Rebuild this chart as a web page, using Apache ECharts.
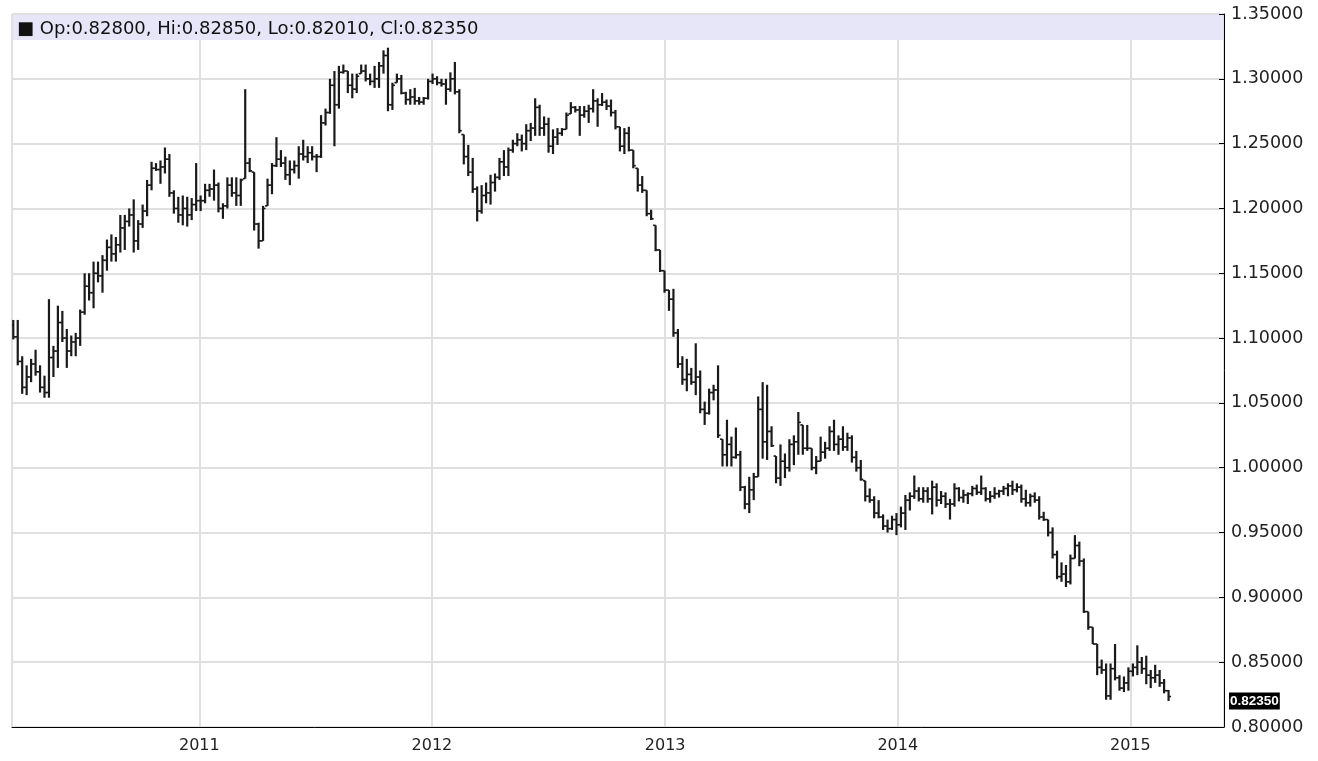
<!DOCTYPE html>
<html><head><meta charset="utf-8">
<script src="https://cdn.jsdelivr.net/npm/echarts@6/dist/echarts.min.js"></script>
<style>html,body{margin:0;padding:0;background:#fff}#c{width:1318px;height:761px}</style>
</head><body><div id="c"></div>
<script>
// Weekly bars starting Monday 2010-03-15
const startDate = [2010, 2, 15];
const yearTicks = [2011, 2012, 2013, 2014, 2015];

const open = [
1.110,1.101,1.082,1.062,1.070,1.080,1.074,1.062,1.058,1.085,
1.090,1.112,1.100,1.090,1.097,1.100,1.120,1.140,1.135,1.150,
1.148,1.160,1.170,1.165,1.172,1.185,1.190,1.195,1.175,1.188,
1.198,1.218,1.231,1.230,1.232,1.238,1.212,1.200,1.195,1.200,
1.195,1.203,1.206,1.206,1.214,1.215,1.218,1.200,1.202,1.218,
1.212,1.210,1.223,1.235,1.228,1.188,1.175,1.202,1.218,1.233,
1.238,1.235,1.226,1.230,1.233,1.242,1.240,1.243,1.240,1.240,
1.266,1.274,1.295,1.280,1.305,1.306,1.295,1.292,1.304,1.306,
1.300,1.298,1.300,1.310,1.318,1.280,1.297,1.300,1.289,1.284,
1.286,1.283,1.282,1.285,1.298,1.300,1.297,1.296,1.292,1.300,
1.290,1.257,1.240,1.228,1.215,1.198,1.210,1.212,1.220,1.224,
1.236,1.232,1.245,1.250,1.253,1.250,1.260,1.262,1.278,1.262,
1.265,1.248,1.255,1.258,1.261,1.273,1.278,1.276,1.272,1.275,
1.277,1.283,1.280,1.282,1.279,1.274,1.263,1.248,1.258,1.245,
1.231,1.218,1.214,1.196,1.187,1.168,1.152,1.137,1.130,1.104,
1.080,1.068,1.072,1.066,1.070,1.045,1.042,1.058,1.060,1.022,
1.010,1.018,1.008,1.010,0.985,0.972,0.983,0.993,1.045,1.020,
1.028,1.009,0.992,1.005,1.000,1.018,1.020,1.033,1.015,1.015,
1.000,1.005,1.012,1.015,1.028,1.018,1.022,1.016,1.023,1.008,
1.000,0.990,0.978,0.975,0.965,0.962,0.955,0.953,0.960,0.956,
0.965,0.975,0.978,0.982,0.976,0.982,0.976,0.985,0.975,0.978,
0.972,0.972,0.984,0.977,0.979,0.980,0.984,0.981,0.984,0.976,
0.978,0.980,0.982,0.984,0.986,0.983,0.985,0.976,0.973,0.978,
0.975,0.962,0.960,0.950,0.933,0.916,0.918,0.912,0.930,0.940,
0.928,0.889,0.877,0.864,0.846,0.844,0.824,0.845,0.838,0.830,
0.834,0.843,0.846,0.850,0.845,0.840,0.838,0.840,0.834,0.8280
];
const high = [
1.114,1.114,1.086,1.079,1.084,1.091,1.079,1.071,1.130,1.094,
1.125,1.121,1.107,1.102,1.104,1.122,1.150,1.150,1.159,1.159,
1.164,1.176,1.180,1.178,1.195,1.195,1.200,1.207,1.191,1.203,
1.222,1.236,1.235,1.237,1.247,1.242,1.214,1.209,1.210,1.209,
1.208,1.235,1.210,1.219,1.219,1.230,1.220,1.204,1.224,1.224,
1.224,1.223,1.292,1.239,1.228,1.189,1.202,1.223,1.235,1.255,
1.245,1.240,1.237,1.237,1.248,1.253,1.248,1.248,1.242,1.272,
1.277,1.300,1.306,1.310,1.311,1.306,1.304,1.304,1.311,1.311,
1.304,1.310,1.313,1.322,1.324,1.297,1.304,1.303,1.290,1.292,
1.293,1.286,1.286,1.300,1.304,1.302,1.300,1.300,1.305,1.313,
1.292,1.257,1.249,1.239,1.217,1.218,1.220,1.226,1.227,1.239,
1.245,1.247,1.253,1.258,1.257,1.265,1.266,1.285,1.280,1.271,
1.270,1.261,1.262,1.262,1.274,1.282,1.279,1.279,1.279,1.280,
1.292,1.285,1.289,1.284,1.284,1.276,1.263,1.262,1.263,1.245,
1.231,1.225,1.214,1.199,1.187,1.168,1.152,1.137,1.138,1.107,
1.086,1.084,1.077,1.096,1.075,1.051,1.061,1.064,1.079,1.022,
1.037,1.024,1.031,1.013,0.986,0.993,0.996,1.055,1.066,1.064,
1.032,1.009,1.018,1.011,1.022,1.025,1.043,1.033,1.033,1.015,
1.009,1.024,1.020,1.032,1.037,1.025,1.032,1.027,1.025,1.013,
1.006,0.990,0.984,0.978,0.975,0.964,0.960,0.963,0.965,0.970,
0.979,0.981,0.994,0.985,0.985,0.985,0.990,0.988,0.982,0.981,
0.976,0.988,0.985,0.983,0.981,0.986,0.987,0.994,0.985,0.982,
0.985,0.983,0.986,0.988,0.990,0.988,0.987,0.983,0.980,0.981,
0.978,0.966,0.960,0.954,0.936,0.927,0.925,0.933,0.948,0.943,
0.930,0.889,0.877,0.864,0.852,0.849,0.849,0.864,0.840,0.839,
0.846,0.849,0.863,0.854,0.855,0.844,0.848,0.844,0.837,0.8285
];
const low = [
1.099,1.079,1.057,1.056,1.066,1.071,1.058,1.054,1.054,1.070,
1.077,1.097,1.077,1.086,1.086,1.094,1.118,1.129,1.123,1.143,
1.135,1.152,1.159,1.159,1.166,1.168,1.186,1.166,1.168,1.185,
1.194,1.214,1.229,1.219,1.227,1.209,1.196,1.189,1.187,1.186,
1.191,1.198,1.198,1.204,1.209,1.206,1.197,1.192,1.200,1.209,
1.202,1.202,1.223,1.228,1.183,1.169,1.175,1.202,1.211,1.232,
1.232,1.222,1.218,1.227,1.223,1.237,1.235,1.237,1.228,1.239,
1.264,1.273,1.248,1.277,1.304,1.289,1.285,1.289,1.304,1.298,
1.295,1.293,1.293,1.304,1.275,1.276,1.297,1.288,1.280,1.280,
1.280,1.280,1.280,1.284,1.296,1.295,1.294,1.280,1.290,1.288,
1.258,1.234,1.225,1.212,1.190,1.196,1.204,1.203,1.213,1.222,
1.225,1.225,1.243,1.248,1.244,1.245,1.252,1.256,1.256,1.256,
1.243,1.242,1.249,1.256,1.261,1.273,1.274,1.256,1.270,1.266,
1.274,1.263,1.279,1.276,1.271,1.261,1.244,1.242,1.244,1.231,
1.213,1.212,1.194,1.191,1.167,1.151,1.135,1.121,1.101,1.077,
1.064,1.059,1.064,1.056,1.042,1.033,1.041,1.052,1.023,1.001,
1.001,1.001,1.007,0.982,0.968,0.965,0.975,0.993,1.007,1.006,
1.016,0.988,0.986,0.992,0.997,1.002,1.010,1.010,1.013,0.998,
0.995,1.005,1.007,1.013,1.013,1.010,1.013,1.013,1.004,0.997,
0.990,0.974,0.973,0.961,0.961,0.952,0.950,0.952,0.948,0.954,
0.952,0.967,0.976,0.974,0.973,0.973,0.964,0.970,0.972,0.969,
0.960,0.970,0.974,0.973,0.972,0.978,0.979,0.979,0.974,0.973,
0.976,0.977,0.979,0.978,0.979,0.981,0.973,0.970,0.970,0.973,
0.960,0.959,0.947,0.930,0.914,0.912,0.908,0.910,0.930,0.924,
0.888,0.875,0.864,0.840,0.841,0.821,0.821,0.836,0.828,0.827,
0.828,0.839,0.840,0.841,0.833,0.830,0.834,0.831,0.826,0.8201
];
const close = [
1.101,1.082,1.062,1.070,1.080,1.074,1.062,1.058,1.085,1.090,
1.112,1.100,1.090,1.097,1.100,1.120,1.140,1.135,1.150,1.148,
1.160,1.170,1.165,1.172,1.185,1.190,1.195,1.175,1.188,1.198,
1.218,1.231,1.230,1.232,1.238,1.212,1.200,1.195,1.200,1.195,
1.203,1.206,1.206,1.214,1.215,1.218,1.200,1.202,1.218,1.212,
1.210,1.222,1.235,1.229,1.188,1.175,1.200,1.218,1.233,1.238,
1.235,1.226,1.230,1.233,1.242,1.240,1.243,1.240,1.240,1.266,
1.274,1.295,1.280,1.305,1.306,1.295,1.292,1.302,1.306,1.300,
1.298,1.300,1.310,1.318,1.280,1.295,1.300,1.289,1.284,1.286,
1.283,1.282,1.285,1.298,1.300,1.297,1.296,1.292,1.300,1.290,
1.260,1.240,1.228,1.215,1.198,1.210,1.212,1.220,1.224,1.236,
1.232,1.245,1.250,1.253,1.250,1.260,1.262,1.278,1.262,1.265,
1.248,1.255,1.258,1.261,1.272,1.278,1.276,1.272,1.275,1.277,
1.283,1.280,1.282,1.279,1.274,1.263,1.248,1.258,1.245,1.233,
1.218,1.214,1.196,1.192,1.168,1.152,1.137,1.130,1.104,1.080,
1.068,1.072,1.066,1.070,1.045,1.042,1.058,1.060,1.025,1.010,
1.018,1.008,1.010,0.985,0.972,0.983,0.993,1.045,1.020,1.028,
1.017,0.992,1.005,1.000,1.018,1.020,1.035,1.015,1.015,1.000,
1.005,1.012,1.015,1.028,1.018,1.022,1.016,1.023,1.008,1.000,
0.991,0.978,0.975,0.965,0.962,0.955,0.953,0.960,0.956,0.965,
0.975,0.978,0.982,0.976,0.982,0.976,0.985,0.975,0.978,0.972,
0.972,0.984,0.977,0.979,0.980,0.984,0.981,0.984,0.976,0.978,
0.980,0.982,0.984,0.986,0.983,0.985,0.976,0.973,0.978,0.975,
0.962,0.960,0.950,0.933,0.916,0.918,0.912,0.930,0.940,0.928,
0.889,0.877,0.864,0.846,0.844,0.824,0.845,0.838,0.830,0.834,
0.843,0.846,0.850,0.845,0.840,0.838,0.840,0.834,0.828,0.8235
];

const n = close.length;
const data = [];
for (let i = 0; i < n; i++) {
  const t = new Date(startDate[0], startDate[1], startDate[2] + 7 * i).getTime();
  data.push([t, open[i], high[i], low[i], close[i]]);
}
const last = n - 1;
const header = '\u25A0 Op:' + open[last].toFixed(5) + ', Hi:' + high[last].toFixed(5) +
  ', Lo:' + low[last].toFixed(5) + ', Cl:' + close[last].toFixed(5);

const FONT = 'DejaVu Sans';
const chart = echarts.init(document.getElementById('c'), null, {renderer: 'canvas'});
chart.setOption({
  animation: false,
  backgroundColor: '#fff',
  grid: {left: 12, right: 94, top: 14, bottom: 34, show: true, borderColor: '#000', borderWidth: 1,
         containLabel: false, outerBoundsMode: 'none'},
  xAxis: {
    type: 'time',
    min: new Date(2010, 2, 13).getTime(),
    max: new Date(2015, 4, 28).getTime(),
    minInterval: 365 * 86400000,
    maxInterval: 366 * 86400000,
    axisLine: {show: true, lineStyle: {color: '#000'}},
    axisTick: {show: false},
    splitLine: {show: true, lineStyle: {color: '#e0e0e0', width: 2}},
    axisLabel: {
      color: '#222', fontFamily: FONT, fontSize: 16, margin: 11,
      showMinLabel: false, showMaxLabel: false,
      formatter: function (v) {
        const d = new Date(v);
        return (d.getMonth() === 0 && d.getDate() === 1 && yearTicks.indexOf(d.getFullYear()) >= 0) ? String(d.getFullYear()) : '';
      }
    }
  },
  yAxis: {
    type: 'value', position: 'right', min: 0.80, max: 1.35, interval: 0.05,
    axisLine: {show: true, lineStyle: {color: '#000'}},
    axisTick: {show: true, inside: true, length: 5, lineStyle: {color: '#000'}},
    splitLine: {show: true, lineStyle: {color: '#e0e0e0', width: 2}},
    axisLabel: {color: '#222', fontFamily: FONT, fontSize: 17.5, margin: 7,
      formatter: function (v) { return v.toFixed(5); }}
  },
  graphic: [
    {type: 'rect', z: 100, shape: {x: 13, y: 15, width: 1210, height: 25}, style: {fill: '#e6e6f8'}},
    {type: 'text', z: 101, left: 17, top: 20, style: {text: header, fill: '#111', font: '18px "DejaVu Sans"'}}
  ],
  series: [{
    type: 'custom',
    data: data,
    encode: {x: 0, y: [1, 2, 3, 4]},
    clip: true,
    renderItem: function (params, api) {
      const x = api.value(0);
      const o = api.coord([x, api.value(1)]);
      const h = api.coord([x, api.value(2)]);
      const l = api.coord([x, api.value(3)]);
      const c = api.coord([x, api.value(4)]);
      const w = 2.5;
      const st = {stroke: '#1a1a1a', lineWidth: 2.2};
      return {type: 'group', children: [
        {type: 'line', shape: {x1: h[0], y1: h[1], x2: l[0], y2: l[1]}, style: st},
        {type: 'line', shape: {x1: o[0] - w, y1: o[1], x2: o[0], y2: o[1]}, style: {stroke: '#1a1a1a', lineWidth: 1.6}},
        {type: 'line', shape: {x1: c[0], y1: c[1], x2: c[0] + w, y2: c[1]}, style: {stroke: '#1a1a1a', lineWidth: 1.6}}
      ]};
    },
    markLine: {
      silent: true, symbol: 'none',
      lineStyle: {color: 'rgba(0,0,0,0)', width: 1},
      data: [{yAxis: close[last]}],
      label: {show: true, position: 'end', distance: 5, color: '#fff', backgroundColor: '#000',
        padding: [2, 1, 1, 1], fontFamily: '"Liberation Sans"', fontSize: 13.5, fontWeight: 'bold',
        formatter: function () { return close[last].toFixed(5); }}
    }
  }]
});
</script></body></html>
